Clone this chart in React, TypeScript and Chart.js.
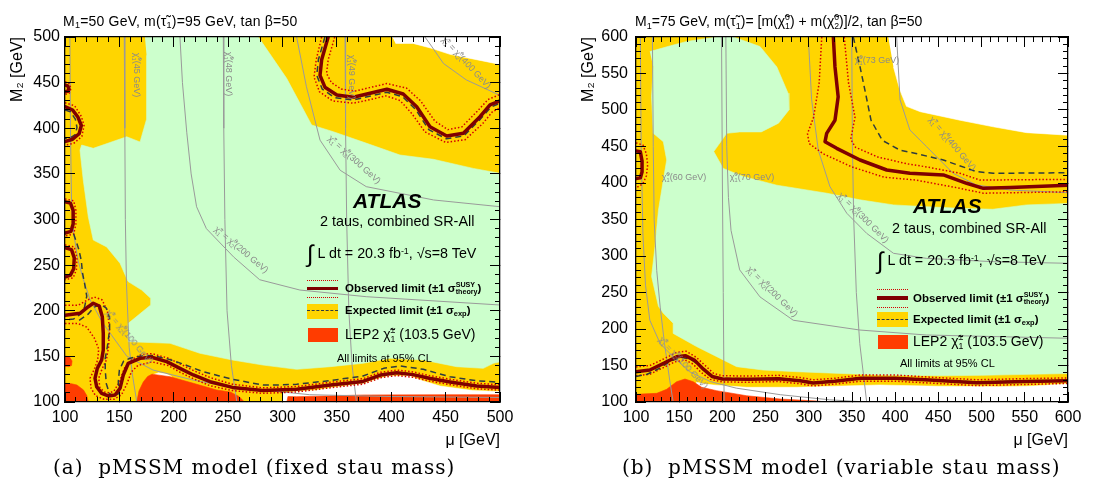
import React, { useEffect, useRef } from "react";
import { Chart, registerables } from "chart.js";

Chart.register(...registerables);

type P = [number, number][];

const FONT = "'Liberation Sans', Arial, Helvetica, sans-serif";
const YELLOW = "#ffd500";
const GREEN = "#ccffcc";
const RED = "#ff3c00";
const WHITE = "#ffffff";
const OBS = "#7f0000";
const DOT = "#d40000";
const EXP = "#2f3b3f";
const GRAY = "#9a9a9a";

// ---------------- Panel (a): M1=50 GeV, fixed stau mass ----------------
const A_MU_RANGE = [100, 500];
const A_M2_RANGE = [100, 500];

const A_FRAME: P = [[100, 100], [500, 100], [500, 500], [100, 500]];
const A_WHITE_TOP: P = [[401, 500], [500, 500], [500, 470], [475, 476], [454, 481], [436, 488], [420, 493], [404, 493]];
const A_WHITE_LOW: P = [[300, 100], [300, 110], [313, 111.5], [331, 113], [344, 115.5], [374, 120], [388, 125.5], [398, 128.5], [417, 128.5], [429.5, 123], [445, 117.5], [475, 112.5], [500, 111.5], [500, 100]];
const A_WHITE_NOTCH: P = [[181, 130], [186, 132], [193, 131], [198, 128], [190, 127.5]];
const A_GREEN: P = [[173.5, 500], [277.8, 500], [303.8, 454.7], [326.8, 403.6], [346.7, 396.2], [377.4, 383.5], [408, 370.7], [438.7, 366], [475.4, 356], [500, 350.6], [500, 144], [494, 142.4], [484.6, 136.9], [460, 138.7], [429.5, 146], [399, 147.9], [374, 142.4], [344, 138.7], [313, 135.8], [282, 140.5], [254, 146], [224, 153.4], [196.6, 164.3], [158.2, 166.1], [158.2, 186.2], [178.8, 206.3], [178.8, 213.6], [170.5, 222.7], [158, 232], [150.6, 252], [138.3, 270], [126, 277.5], [121.4, 303], [116.8, 343], [113.8, 376], [115.3, 381.6], [126, 378], [156.7, 390.7], [169, 385], [175, 410], [175, 480]];
const A_RED_MID: P = [[166, 100], [168, 112], [172, 122], [176, 128], [180, 130.5], [196.6, 127.7], [218, 120.5], [239.5, 113.2], [252, 111], [260, 106], [265, 100]];
const A_RED_CORNER: P = [[100, 100], [100, 120.5], [106, 120], [111, 118.6], [117, 113.2], [120, 107], [121.5, 100]];
const A_RED_EDGE: P = [[100, 138.7], [100, 150.4], [104, 149.5], [106.5, 145], [106, 140], [103, 138.5]];
const A_RED_STRIP: P = [[304, 100], [305, 106], [313, 105.8], [374, 107.7], [450, 108], [500, 108], [500, 100]];

const A_GRAY_N45: P = [[154.5, 500], [155, 400], [155.5, 300], [156.5, 230], [159, 160], [162, 130], [166, 100]];
const A_GRAY_N48: P = [[245.6, 500], [246, 400], [247, 300], [249, 200], [253, 140], [258, 100]];
const A_GRAY_N49: P = [[357.5, 500], [358, 400], [359, 300], [361, 200], [364, 140], [368, 100]];
const A_GRAY_C400: P = [[431, 500], [437, 490], [448, 471], [469, 453], [500, 436]];
const A_GRAY_C300: P = [[313, 500], [322, 445.5], [334.5, 387], [353, 354], [377, 336], [439, 321.4], [500, 314]];
const A_GRAY_C200: P = [[205.7, 500], [208, 450], [212, 395], [216, 350], [221, 314], [230, 290], [255, 259], [279, 234], [316, 222.7], [377, 215.4], [500, 206.3]];
const A_GRAY_C100: P = [[104.5, 500], [105, 400], [106, 320], [108, 285], [112, 255], [117, 234], [123, 212], [135, 186], [157, 150], [181, 135], [218, 124], [249, 117], [325, 108], [400, 106], [500, 105]];

const A_OBS_TOP: P = [[342, 500], [336, 475], [334.5, 458], [339, 445], [350, 436.4], [365, 434], [380.5, 438.3], [396, 442.7], [411, 437.5], [423.4, 423.6], [435.6, 401.7], [451, 391.5], [466.3, 394.5], [481.6, 412.6], [490.8, 425.5], [500, 430]];
const A_OBS_EDGE1: P = [[100, 447.5], [102.5, 446.5], [103.5, 443.5], [102.5, 440.5], [100, 440]];
const A_OBS_EDGE2: P = [[100, 423.6], [107, 420], [112, 412], [115, 403], [113, 394], [107, 388], [100, 385.5]];
const A_OBS_EDGE3: P = [[100, 319.5], [105, 318], [107.5, 310], [107.5, 295], [105.5, 287], [100, 285]];
const A_OBS_EDGE4: P = [[100, 269], [106, 267], [108.5, 258], [108, 246], [105, 239], [100, 237]];
const A_OBS_LOW: P = [[100, 195], [113.8, 197.2], [121.4, 204.4], [126, 208.2], [131.5, 205.2], [134.3, 193.5], [135.2, 175.3], [135.2, 157], [133.7, 146], [129.7, 136.9], [127.6, 126], [129.1, 116.8], [133.7, 109.5], [139.8, 106.6], [146, 107.7], [150.6, 115], [153.6, 129.6], [158.2, 142.4], [169, 147.9], [179.7, 149], [193.5, 144.2], [205.7, 136.9], [218, 129.6], [233.3, 122.2], [254, 116], [282, 112.5], [313, 114], [344, 118.6], [374, 122.5], [390, 129.5], [405, 132], [420, 130], [435, 126], [454, 122], [478.5, 117.5], [500, 116]];

const A_EXP_TOP: P = [[339, 500], [333, 475], [331.5, 458], [336.5, 443], [348, 433.5], [365, 431], [380, 435], [396, 439.5], [410.5, 434.5], [422.5, 420.5], [434.5, 398.5], [450.5, 388.5], [466.5, 391.5], [482, 410], [491.5, 423], [500, 427.5]];
const A_EXP_EDGE: P = [[100, 420], [105, 418], [109.5, 410], [111, 401], [109.5, 393], [104, 389], [100, 389]];
const A_EXP_MID: P = [[108, 284], [112.5, 268], [115, 255], [116, 242], [118, 230], [120, 216], [118, 204], [114, 196], [108, 191], [100, 190]];
const A_EXP_LOW: P = [[113, 189.5], [121, 196], [127, 204], [133, 207], [138, 203], [141, 192], [141, 179], [139, 161], [137, 148], [137, 135], [138, 120], [141, 109], [146, 106], [150, 110], [149, 122], [150, 135], [154, 145], [160, 148], [170, 150.5], [180, 151], [195, 147], [210, 141], [225, 134], [242, 128.5], [254, 124.9], [282, 118.6], [300, 118.8], [313, 119.5], [344, 123.5], [374, 128.5], [393, 136.9], [408, 139.5], [429.5, 135.8], [454, 127.7], [478.5, 123.3], [500, 121.6]];

const A_DOT_TOP_OUT: P = [[336, 500], [331, 475], [329, 456], [334, 440], [346, 430], [365, 427.5], [381, 431.5], [395, 435.5], [408, 430.5], [419, 416], [431, 396], [450, 384.5], [468, 387.5], [484, 405], [493, 418], [500, 422.5]];
const A_DOT_TOP_IN: P = [[348, 500], [342, 475], [340.5, 460], [345, 450], [354, 443], [366, 440.5], [380, 444.5], [396, 449], [414, 444], [427, 430], [440, 408], [452, 398.5], [465, 401.5], [479, 418.5], [489, 431.5], [500, 437]];
const A_DOT_EDGE1: P = [[100, 451], [104, 449], [105.5, 443.5], [104, 438.5], [100, 437]];
const A_DOT_EDGE2: P = [[100, 428], [109, 424.5], [115, 413], [117.5, 403], [115.5, 391], [108, 383.5], [100, 381.5]];
const A_DOT_EDGE3: P = [[100, 322.5], [108, 320.5], [110, 310], [110, 295], [108, 284], [100, 282]];
const A_DOT_EDGE4: P = [[100, 272], [108.5, 270], [111, 258], [110.5, 245], [107.5, 236], [100, 234]];
const A_DOT_LOW_UP: P = [[100, 206], [112, 206], [121, 212], [127, 215], [134, 212], [139, 200], [141, 180], [140, 160], [138, 146], [134, 136], [131, 126], [132, 116], [136, 111], [141, 110], [145, 112], [150, 122], [155, 138], [162, 147], [170, 152], [180, 153], [195, 148], [207, 141], [219, 134], [234, 126.5], [254, 119.5], [282, 115.5], [313, 117], [344, 121.6], [374, 125.5], [390, 132.5], [405, 135], [420, 133], [435, 129], [454, 125], [478.5, 120.5], [500, 119]];
const A_DOT_LOW_DN: P = [[100, 186], [112, 186], [120, 182], [127, 170], [131, 158], [130, 146], [127, 136], [123, 126], [124, 115], [128, 107], [136, 103], [145, 103], [152, 108], [157, 120], [161, 133], [167, 140], [180, 144], [195, 140], [206, 132.5], [218, 125.5], [233, 118], [254, 112.5], [282, 109.5], [313, 111], [344, 115.6], [374, 119.5], [390, 126.5], [405, 129], [420, 127], [435, 123], [454, 119], [478.5, 114.5], [500, 113]];

// ---------------- Panel (b): M1=75 GeV, variable stau mass ----------------
const B_MU_RANGE = [100, 600];
const B_M2_RANGE = [100, 600];

const B_FRAME: P = [[100, 100], [600, 100], [600, 600], [100, 600]];
const B_WHITE_TOP: P = [[392, 600], [600, 600], [600, 465.5], [552, 469], [513.5, 477], [475, 486], [429, 497.7], [413, 505], [405.5, 527], [398, 559]];
const B_WHITE_LOW: P = [[170, 100], [170, 127], [180, 124.5], [190, 123.3], [228, 120.1], [286, 120.1], [382, 123.3], [450, 121.5], [520, 121], [560, 122], [600, 125], [600, 100]];
const B_GREEN: P = [[116, 580], [140, 588], [159, 594], [193, 600], [213, 600], [243.5, 587], [263, 559], [276, 523], [277, 500], [265, 482], [245, 470], [220, 470], [205, 468], [190, 443], [201, 420], [224, 409], [263, 397], [321, 386], [359, 377], [398, 370], [436, 367.5], [475, 365.3], [513, 364], [552, 370], [600, 372], [600, 139], [500, 136.5], [450, 136], [382, 137], [286, 141.5], [247, 143.8], [216.5, 148.4], [197, 160], [170, 176], [143, 194], [143, 208], [131.6, 221.5], [126, 231], [118, 272], [122, 313], [126, 363], [131.6, 404], [135.5, 431.5], [131.6, 456.6], [120, 468], [118, 518], [120, 559]];
const B_RED: P = [[100, 100], [100, 110.5], [124, 111.9], [135.5, 117.4], [147, 127.8], [156.7, 131.5], [166.3, 127.8], [176, 120.1], [193.4, 115.5], [228, 108.6], [266.7, 104.1], [309, 101.4], [320, 100]];

const B_GRAY_N60: P = [[119, 600], [120, 450], [121, 350], [124, 280], [128, 230], [133, 180], [139, 130], [143, 100]];
const B_GRAY_N70: P = [[199, 600], [200, 400], [201, 250], [202, 100]];
const B_GRAY_N73: P = [[349.7, 600], [350.5, 450], [352, 350], [355, 250], [359, 180], [367, 100]];
const B_GRAY_C400: P = [[401.7, 600], [405.6, 514], [417, 472.6], [436.4, 449.7], [467, 413.3], [494, 397.3], [533, 390.4], [600, 386.7]];
const B_GRAY_C300: P = [[299.4, 600], [303.3, 514], [311, 445], [324.5, 395], [344, 358.5], [367, 331], [398, 303.7], [436, 296.8], [513.5, 292.2], [600, 290]];
const B_GRAY_C200: P = [[204, 600], [205, 450], [207, 380], [210, 335], [220, 281], [243.5, 244], [282, 212], [359, 198.6], [436, 191.8], [600, 187.3]];
const B_GRAY_C100: P = [[105, 600], [106, 450], [108, 330], [111, 260], [116, 212], [128, 180], [143, 162], [162, 141.5], [186, 128], [216, 119], [267, 110], [324, 103], [360, 100.5]];

const B_OBS_MAIN: P = [[328.4, 600], [330.3, 559], [334, 518], [330.3, 486], [320.7, 468], [318.8, 456.6], [332.3, 447.5], [359.3, 431.5], [390.2, 417.8], [417, 413.3], [455.7, 411], [482.7, 399.6], [502, 392.7], [533, 394], [600, 397]];
const B_OBS_EDGE: P = [[100, 444], [105, 443], [107, 430], [107, 415], [105, 407], [100, 406]];
const B_OBS_LOW: P = [[100, 141.5], [116, 143.8], [132, 153], [147, 162], [157, 163.5], [168, 157], [178, 145], [188, 135], [200, 131.5], [230, 131], [265, 132], [290, 129], [305, 126], [330, 128.5], [360, 132.5], [400, 132.5], [440, 130], [494, 126.5], [550, 128], [600, 129]];
const B_EXP_MAIN: P = [[351.5, 600], [359.3, 559], [365, 527], [372, 486], [385, 458.5], [405.5, 445], [424, 440.4], [455.7, 431.5], [494.3, 415.5], [513.5, 413.3], [600, 414]];
const B_EXP_LOW: P = [[100, 135], [113, 138], [127, 146], [140, 156], [152, 161], [163, 159], [173, 150], [183, 139], [195, 133], [230, 131.5], [265, 132.5], [290, 129.5], [305, 127], [330, 129], [360, 133], [400, 133], [440, 130.5], [494, 127.5], [550, 128.5], [600, 129.5]];
const B_DOT_MAIN_OUT: P = [[315, 600], [312, 537], [305.5, 490], [298.5, 467.5], [300.5, 454], [316.7, 440], [350, 422], [387, 408], [424, 404], [475, 392.7], [502, 386], [600, 388]];
const B_DOT_MAIN_IN: P = [[341, 600], [346, 537], [353.5, 490], [348.5, 460], [354, 449], [380, 435.5], [413, 426.5], [436.4, 422], [475, 413.3], [498, 404], [600, 405]];
const B_DOT_EDGE: P = [[100, 455], [108, 452], [112, 440], [113.5, 425], [112, 410], [108, 399], [101, 394]];
const B_DOT_LOW_UP: P = [[100, 148], [116, 150], [132, 159], [147, 168], [158, 169.5], [170, 161], [180, 150], [190, 139], [200, 136], [230, 135.5], [265, 136.5], [290, 133.5], [305, 130.5], [330, 132.5], [360, 137], [400, 137], [440, 134], [494, 130.5], [550, 132], [600, 133]];
const B_DOT_LOW_DN: P = [[100, 136], [116, 138], [130, 146], [145, 155], [157, 157.5], [166, 152], [175, 141], [186, 131], [200, 127.5], [230, 127], [265, 128], [290, 125], [305, 122], [330, 124.5], [360, 128.5], [400, 128.5], [440, 126], [494, 122.5], [550, 124], [600, 125.5]];

// ---------------- helpers ----------------
const pts = (p: P) => p.map(([x, y]) => ({ x, y }));

function area(p: P, color: string, order: number) {
  return {
    data: pts(p), fill: "shape", backgroundColor: color, borderColor: color, borderWidth: 0.6,
    pointRadius: 0, tension: 0, order,
  };
}
function curve(p: P, color: string, width: number, dash: number[], order: number) {
  return {
    data: pts(p), fill: false, borderColor: color, borderWidth: width, borderDash: dash,
    borderCapStyle: dash.length ? "butt" : "round", borderJoinStyle: "round",
    pointRadius: 0, tension: 0, order,
  };
}

function makeScales(xr: number[], yr: number[], yW: number, yLabPad: number, yTitlePad: number) {
  const tickFont = { family: FONT, size: 16 };
  const g = (len: number) => ({ display: true, drawOnChartArea: false, drawTicks: true, tickLength: -len, tickColor: "#000", tickWidth: 1, z: 1 });
  const frame = { display: true, color: "#000", width: 1.3, z: 1 };
  const none = { display: false };
  const hid = (step: number) => ({ display: false, stepSize: step, autoSkip: false, maxTicksLimit: 200 });
  const zeroH = (s: any) => { s.height = 0; };
  const zeroW = (s: any) => { s.width = 0; };
  return {
    x: {
      type: "linear", axis: "x", position: "bottom", weight: 2, min: xr[0], max: xr[1], grid: g(10), border: frame,
      ticks: { stepSize: 50, autoSkip: false, maxTicksLimit: 200, maxRotation: 0, padding: 16, color: "#000", font: tickFont },
      title: { display: true, text: "μ [GeV]", align: "end", color: "#000", font: { family: FONT, size: 16 }, padding: { top: 0, bottom: 2 } },
      afterFit: (s: any) => { s.height = 50; },
    },
    xm: { type: "linear", axis: "x", position: "bottom", weight: 1, min: xr[0], max: xr[1], grid: g(5), border: none, ticks: hid(10), afterFit: zeroH },
    xt: { type: "linear", axis: "x", position: "top", weight: 1, min: xr[0], max: xr[1], grid: g(10), border: frame, ticks: hid(50), afterFit: zeroH },
    xtm: { type: "linear", axis: "x", position: "top", weight: 2, min: xr[0], max: xr[1], grid: g(5), border: none, ticks: hid(10), afterFit: zeroH },
    y: {
      type: "linear", axis: "y", position: "left", weight: 2, min: yr[0], max: yr[1], grid: g(10), border: frame,
      ticks: { stepSize: 50, autoSkip: false, maxTicksLimit: 200, padding: yLabPad, color: "#000", font: tickFont },
      title: { display: true, text: "M₂ [GeV]", align: "end", color: "#000", font: { family: FONT, size: 16 }, padding: { top: yTitlePad, bottom: 0 } },
      afterFit: (s: any) => { s.width = yW; },
    },
    ym: { type: "linear", axis: "y", position: "left", weight: 1, min: yr[0], max: yr[1], grid: g(5), border: none, ticks: hid(10), afterFit: zeroW },
    yr: { type: "linear", axis: "y", position: "right", weight: 1, min: yr[0], max: yr[1], grid: g(10), border: frame, ticks: hid(50), afterFit: zeroW },
    yrm: { type: "linear", axis: "y", position: "right", weight: 2, min: yr[0], max: yr[1], grid: g(5), border: none, ticks: hid(10), afterFit: zeroW },
  };
}

function config(datasets: any[], xr: number[], yr: number[], yW: number, padR: number, yLabPad: number, yTitlePad: number) {
  return {
    type: "line",
    data: { datasets },
    options: {
      animation: false, responsive: false, events: [],
      layout: { padding: { left: 0, top: 37, right: padR, bottom: 32 } },
      plugins: { legend: { display: false }, tooltip: { enabled: false }, title: { display: false } },
      scales: makeScales(xr, yr, yW, yLabPad, yTitlePad),
    },
  } as any;
}

function datasetsA() {
  return [
    area(A_FRAME, YELLOW, 100),
    area(A_WHITE_TOP, WHITE, 90), area(A_WHITE_LOW, WHITE, 90), area(A_WHITE_NOTCH, WHITE, 90),
    area(A_GREEN, GREEN, 80),
    area(A_RED_MID, RED, 70), area(A_RED_CORNER, RED, 70), area(A_RED_EDGE, RED, 70), area(A_RED_STRIP, RED, 70),
    ...[A_GRAY_N45, A_GRAY_N48, A_GRAY_N49, A_GRAY_C400, A_GRAY_C300, A_GRAY_C200, A_GRAY_C100].map((p) => curve(p, GRAY, 1, [], 60)),
    ...[A_DOT_TOP_OUT, A_DOT_TOP_IN, A_DOT_EDGE1, A_DOT_EDGE2, A_DOT_EDGE3, A_DOT_EDGE4, A_DOT_LOW_UP, A_DOT_LOW_DN].map((p) => curve(p, DOT, 1.5, [1.5, 2], 50)),
    ...[A_EXP_TOP, A_EXP_EDGE, A_EXP_MID, A_EXP_LOW].map((p) => curve(p, EXP, 1.5, [6, 4], 40)),
    ...[A_OBS_TOP, A_OBS_EDGE1, A_OBS_EDGE2, A_OBS_EDGE3, A_OBS_EDGE4, A_OBS_LOW].map((p) => curve(p, OBS, 3.5, [], 30)),
  ];
}
function datasetsB() {
  return [
    area(B_FRAME, YELLOW, 100),
    area(B_WHITE_TOP, WHITE, 90), area(B_WHITE_LOW, WHITE, 90),
    area(B_GREEN, GREEN, 80),
    area(B_RED, RED, 70),
    ...[B_GRAY_N60, B_GRAY_N70, B_GRAY_N73, B_GRAY_C400, B_GRAY_C300, B_GRAY_C200, B_GRAY_C100].map((p) => curve(p, GRAY, 1, [], 60)),
    ...[B_DOT_MAIN_OUT, B_DOT_MAIN_IN, B_DOT_EDGE, B_DOT_LOW_UP, B_DOT_LOW_DN].map((p) => curve(p, DOT, 1.5, [1.5, 2], 50)),
    ...[B_EXP_MAIN, B_EXP_LOW].map((p) => curve(p, EXP, 1.5, [6, 4], 40)),
    ...[B_OBS_MAIN, B_OBS_EDGE, B_OBS_LOW].map((p) => curve(p, OBS, 3.5, [], 30)),
  ];
}

// ---------------- text helpers ----------------
const SS = ({ sup, sub }: { sup?: string; sub?: string }) => (
  <span style={{ display: "inline-block", verticalAlign: "-0.32em", fontSize: "0.62em", lineHeight: 1, textAlign: "left" }}>
    <span style={{ display: "block" }}>{sup || "\u00a0"}</span>
    <span style={{ display: "block" }}>{sub || "\u00a0"}</span>
  </span>
);
const Sub = ({ children }: any) => <span style={{ fontSize: "0.65em", verticalAlign: "-0.3em" }}>{children}</span>;
const Sup = ({ children }: any) => <span style={{ fontSize: "0.62em", verticalAlign: "0.55em" }}>{children}</span>;

const T = ({ x, y, size, weight, italic, children, color, ls }: any) => (
  <div
    style={{
      position: "absolute", left: x, top: y, whiteSpace: "nowrap", lineHeight: 1, fontSize: size,
      fontWeight: weight || "normal", fontStyle: italic ? "italic" : "normal", color: color || "#000",
      letterSpacing: ls || 0, transform: "translate(0, -50%)",
    }}
  >
    {children}
  </div>
);
const GL = ({ x, y, rot, children }: any) => (
  <div
    style={{
      position: "absolute", left: x, top: y, whiteSpace: "nowrap", lineHeight: 1, fontSize: 9, color: "#8a8a8a",
      transform: `translate(-50%, -50%) rotate(${rot}deg)`,
    }}
  >
    {children}
  </div>
);
const Box = ({ x, y, w, h, bg, border }: any) => (
  <div style={{ position: "absolute", left: x, top: y, width: w, height: h, background: bg || "transparent", borderTop: border || "none" }} />
);
const Chi = ({ sup, sub }: any) => (
  <>
    χ̃<SS sup={sup} sub={sub} />
  </>
);

const Legend = ({ x, yObs, yExp, yLep, textX, yAll, xAll }: any) => (
  <>
    <Box x={x} y={yObs - 9} w={31} h={0} border={`1.5px dotted ${DOT}`} />
    <Box x={x} y={yObs - 1.75} w={31} h={3.5} bg={OBS} />
    <Box x={x} y={yObs + 8.5} w={31} h={0} border={`1.5px dotted ${DOT}`} />
    <T x={textX} y={yObs + 0.5} size={11.5} weight="bold">
      Observed limit (±1 σ<SS sup="SUSY" sub="theory" />)
    </T>
    <Box x={x} y={yExp - 7.5} w={31} h={15} bg={YELLOW} />
    <Box x={x} y={yExp - 0.75} w={31} h={0} border={`1.5px dashed ${EXP}`} />
    <T x={textX} y={yExp} size={11.5} weight="bold">
      Expected limit (±1 σ<Sub>exp</Sub>)
    </T>
    <Box x={x + 1} y={yLep - 7} w={30} h={14} bg={RED} />
    <T x={textX} y={yLep} size={14}>
      LEP2 <Chi sup="±" sub="1" /> (103.5 GeV)
    </T>
    <T x={xAll} y={yAll} size={11}>
      All limits at 95% CL
    </T>
  </>
);

export default function App() {
  const refA = useRef<HTMLCanvasElement>(null);
  const refB = useRef<HTMLCanvasElement>(null);
  useEffect(() => {
    const a = new Chart(refA.current as HTMLCanvasElement, config(datasetsA(), A_MU_RANGE, A_M2_RANGE, 65, 40, 15, 8));
    const b = new Chart(refB.current as HTMLCanvasElement, config(datasetsB(), B_MU_RANGE, B_M2_RANGE, 76, 36, 18, 19));
    return () => {
      a.destroy();
      b.destroy();
    };
  }, []);

  const caption = { fontFamily: "'DejaVu Serif', 'Liberation Serif', serif", letterSpacing: 1.0 };

  return (
    <div style={{ position: "absolute", left: 0, top: 0, width: 1104, height: 484, background: "#fff", fontFamily: FONT, overflow: "hidden" }}>
      <canvas ref={refA} width={540} height={484} style={{ position: "absolute", left: 0, top: 0, width: 540, height: 484 }} />
      <canvas ref={refB} width={544} height={484} style={{ position: "absolute", left: 560, top: 0, width: 544, height: 484 }} />

      {/* Panel (a) annotations */}
      <T x={63} y={22} size={14} ls={0.2}>
        M<Sub>1</Sub>=50 GeV, m(τ̃<Sub>1</Sub>)=95 GeV, tan β=50
      </T>
      <GL x={136} y={75} rot={90}><Chi sup="0" sub="1" />(45 GeV)</GL>
      <GL x={227.5} y={73.5} rot={90}><Chi sup="0" sub="1" />(48 GeV)</GL>
      <GL x={351} y={76.5} rot={90}><Chi sup="0" sub="1" />(49 GeV)</GL>
      <GL x={466} y={63} rot={47}><Chi sup="±" sub="1" /> = <Chi sup="0" sub="2" />(400 GeV)</GL>
      <GL x={354} y={160} rot={42}><Chi sup="±" sub="1" /> = <Chi sup="0" sub="2" />(300 GeV)</GL>
      <GL x={241} y={250} rot={40}><Chi sup="±" sub="1" /> = <Chi sup="0" sub="2" />(200 GeV)</GL>
      <GL x={129} y={337} rot={50}><Chi sup="±" sub="1" /> = <Chi sup="0" sub="2" />(100 GeV)</GL>
      <T x={353} y={200} size={21} weight="bold" italic>ATLAS</T>
      <T x={320} y={221} size={14.4}>2 taus, combined SR-All</T>
      <T x={307} y={254} size={14.3}>
        <span style={{ fontSize: 24, verticalAlign: "-0.15em" }}>∫</span> L dt = 20.3 fb<Sup>-1</Sup>, √s=8 TeV
      </T>
      <Legend x={307} yObs={288.5} yExp={311} yLep={335} textX={345} xAll={337} yAll={358} />

      {/* Panel (b) annotations */}
      <T x={635} y={22} size={14}>
        M<Sub>1</Sub>=75 GeV, m(τ̃<Sub>1</Sub>)= [m(<Chi sup="0" sub="1" />) + m(<Chi sup="0" sub="2" />)]/2, tan β=50
      </T>
      <GL x={684} y={178} rot={0}><Chi sup="0" sub="1" />(60 GeV)</GL>
      <GL x={752} y={178} rot={0}><Chi sup="0" sub="1" />(70 GeV)</GL>
      <GL x={877} y={61} rot={0}><Chi sup="0" sub="1" />(73 GeV)</GL>
      <GL x={952} y={144} rot={50}><Chi sup="±" sub="1" /> = <Chi sup="0" sub="2" />(400 GeV)</GL>
      <GL x={863} y={218} rot={45}><Chi sup="±" sub="1" /> = <Chi sup="0" sub="2" />(300 GeV)</GL>
      <GL x={772} y={292} rot={45}><Chi sup="±" sub="1" /> = <Chi sup="0" sub="2" />(200 GeV)</GL>
      <GL x={683} y={363} rot={47}><Chi sup="±" sub="1" /> = <Chi sup="0" sub="2" />(100 GeV)</GL>
      <T x={913} y={204.5} size={21} weight="bold" italic>ATLAS</T>
      <T x={892} y={228} size={14.4}>2 taus, combined SR-All</T>
      <T x={877} y={261} size={14.3}>
        <span style={{ fontSize: 24, verticalAlign: "-0.15em" }}>∫</span> L dt = 20.3 fb<Sup>-1</Sup>, √s=8 TeV
      </T>
      <Legend x={877} yObs={298} yExp={319.5} yLep={342} textX={913} xAll={900} yAll={363} />

      {/* captions */}
      <div style={{ position: "absolute", left: 53, top: 467, transform: "translateY(-50%)", fontSize: 20, whiteSpace: "pre", lineHeight: 1, ...caption }}>
        (a)  pMSSM model (fixed stau mass)
      </div>
      <div style={{ position: "absolute", left: 622, top: 467, transform: "translateY(-50%)", fontSize: 20, whiteSpace: "pre", lineHeight: 1, ...caption }}>
        (b)  pMSSM model (variable stau mass)
      </div>
    </div>
  );
}
